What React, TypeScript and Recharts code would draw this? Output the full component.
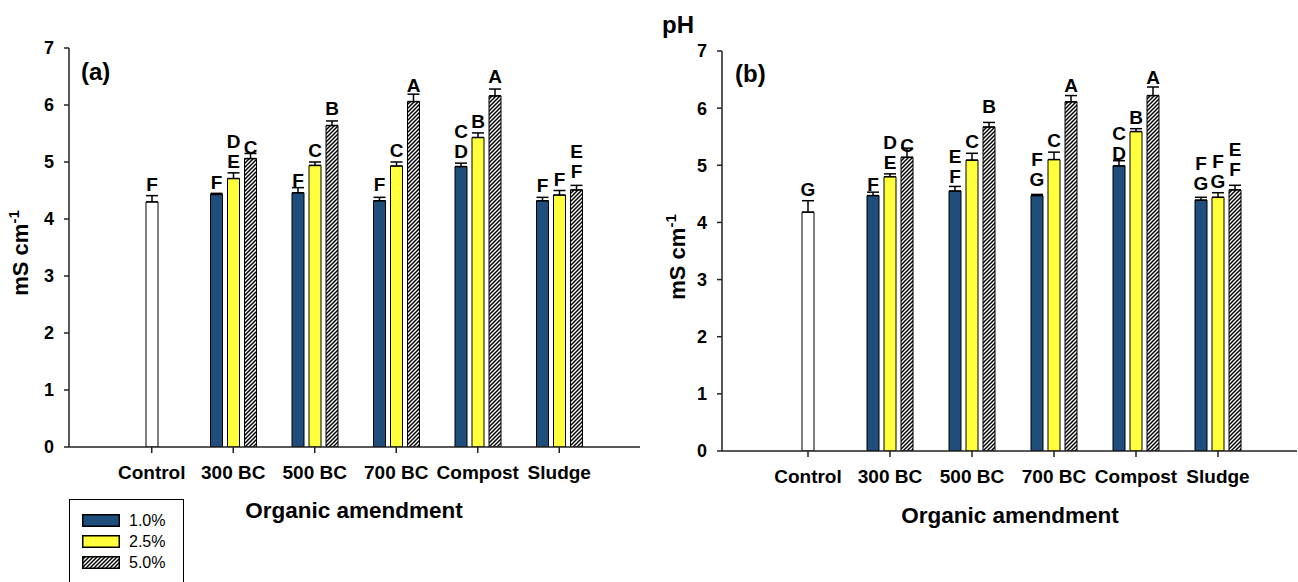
import React from 'react';
import { BarChart, Bar, XAxis, YAxis, ErrorBar, LabelList, Cell } from 'recharts';

const categories = ['Control', '300 BC', '500 BC', '700 BC', 'Compost', 'Sludge'];
const yTicks = [0, 1, 2, 3, 4, 5, 6, 7];

// panel (a)
const controlA = 4.3;
const controlAErr = 0.11;
const controlALetter = 'F';
const a10 = [null, 4.43, 4.46, 4.32, 4.92, 4.32];
const a10Err = [null, 0.02, 0.09, 0.06, 0.06, 0.06];
const a10Letters = ['', 'F', 'F', 'F', 'CD', 'F'];
const a25 = [null, 4.71, 4.94, 4.93, 5.43, 4.42];
const a25Err = [null, 0.1, 0.06, 0.07, 0.08, 0.08];
const a25Letters = ['', 'DE', 'C', 'C', 'B', 'F'];
const a50 = [null, 5.06, 5.64, 6.06, 6.16, 4.51];
const a50Err = [null, 0.09, 0.08, 0.13, 0.12, 0.08];
const a50Letters = ['', 'C', 'B', 'A', 'A', 'EF'];

// panel (b)
const controlB = 4.18;
const controlBErr = 0.2;
const controlBLetter = 'G';
const b10 = [null, 4.47, 4.55, 4.47, 4.99, 4.39];
const b10Err = [null, 0.06, 0.08, 0.02, 0.09, 0.05];
const b10Letters = ['', 'F', 'EF', 'FG', 'CD', 'FG'];
const b25 = [null, 4.8, 5.09, 5.1, 5.59, 4.44];
const b25Err = [null, 0.05, 0.12, 0.13, 0.05, 0.08];
const b25Letters = ['', 'DE', 'C', 'C', 'B', 'FG'];
const b50 = [null, 5.14, 5.67, 6.11, 6.22, 4.57];
const b50Err = [null, 0.16, 0.08, 0.11, 0.15, 0.08];
const b50Letters = ['', 'C', 'B', 'A', 'A', 'EF'];

const legendItems = ['1.0%', '2.5%', '5.0%'];

const BLUE = '#1f4e7d';
const YELLOW = '#ffff3c';
const FONT = '"Liberation Sans", Arial, sans-serif';
const AXIS = '#222';

function buildRows(
  control: number, controlErr: number, controlLetter: string,
  v10: (number | null)[], e10: (number | null)[], l10: string[],
  v25: (number | null)[], e25: (number | null)[], l25: string[],
  v50: (number | null)[], e50: (number | null)[], l50: string[],
) {
  return categories.map((name, i) => ({
    name,
    low: v10[i],
    lowErr: e10[i] == null ? null : [0, e10[i]],
    lowE: e10[i] ?? 0,
    lowLbl: l10[i],
    mid: i === 0 ? control : v25[i],
    midErr: i === 0 ? [0, controlErr] : e25[i] == null ? null : [0, e25[i]],
    midE: i === 0 ? controlErr : e25[i] ?? 0,
    midLbl: i === 0 ? controlLetter : l25[i],
    high: v50[i],
    highErr: e50[i] == null ? null : [0, e50[i]],
    highE: e50[i] ?? 0,
    highLbl: l50[i],
  }));
}

const rowsA = buildRows(controlA, controlAErr, controlALetter, a10, a10Err, a10Letters, a25, a25Err, a25Letters, a50, a50Err, a50Letters);
const rowsB = buildRows(controlB, controlBErr, controlBLetter, b10, b10Err, b10Letters, b25, b25Err, b25Letters, b50, b50Err, b50Letters);

// letters sit just above the error bar
const letters = (rows: any[], errKey: string, pxPerUnit: number) => (props: any) => {
  const { value, index } = props;
  const vb = props.viewBox || props;
  if (!value || vb.x == null || isNaN(vb.y)) return null;
  const lines = String(value).split('');
  const cx = vb.x + vb.width / 2;
  const base = vb.y - rows[index][errKey] * pxPerUnit - 5;
  return (
    <text textAnchor="middle" fontFamily={FONT} fontWeight="bold" fontSize={19} fill="#000">
      {lines.map((l, i) => (
        <tspan key={i} x={cx} y={base - (lines.length - 1 - i) * 20}>{l}</tspan>
      ))}
    </text>
  );
};

type PanelProps = {
  rows: any[];
  left: number;
  width: number;
  margin: { top: number; right: number; bottom: number; left: number };
  padding: { left: number; right: number };
};

function Panel({ rows, left, width, margin, padding }: PanelProps) {
  const height = 540;
  const pxPerUnit = (height - margin.top - margin.bottom - 40) / 7;
  const tickStyle = { fontSize: 18, fontWeight: 'bold', fill: '#000', fontFamily: FONT } as any;
  return (
    <div style={{ position: 'absolute', left, top: 0 }}>
      <BarChart width={width} height={height} data={rows} margin={margin} barSize={12} barGap={5}>
        <XAxis
          dataKey="name"
          interval={0}
          padding={padding}
          height={40}
          tickSize={6}
          tickMargin={13}
          stroke={AXIS}
          strokeWidth={1.5}
          tick={{ ...tickStyle, fontSize: 19 }}
        />
        <XAxis xAxisId="top" orientation="top" dataKey="name" height={0} tick={false} tickLine={false} stroke={AXIS} strokeWidth={1.5} />
        <YAxis
          domain={[0, 7]}
          ticks={yTicks}
          width={60}
          tickSize={5}
          tickMargin={10}
          stroke={AXIS}
          strokeWidth={1.5}
          tick={tickStyle}
          allowDataOverflow
        />
        <YAxis yAxisId="right" orientation="right" width={0} tick={false} tickLine={false} stroke={AXIS} strokeWidth={1.5} domain={[0, 7]} />
        <Bar dataKey="low" fill={BLUE} stroke="#000" strokeWidth={1} isAnimationActive={false}>
          <ErrorBar dataKey="lowErr" width={6} stroke="#000" strokeWidth={1.5} direction="y" />
          <LabelList dataKey="lowLbl" content={letters(rows, 'lowE', pxPerUnit)} />
        </Bar>
        <Bar dataKey="mid" fill={YELLOW} stroke="#000" strokeWidth={1} isAnimationActive={false}>
          {rows.map((r, i) => (
            <Cell key={r.name} fill={i === 0 ? '#fff' : YELLOW} />
          ))}
          <ErrorBar dataKey="midErr" width={6} stroke="#000" strokeWidth={1.5} direction="y" />
          <LabelList dataKey="midLbl" content={letters(rows, 'midE', pxPerUnit)} />
        </Bar>
        <Bar dataKey="high" fill="url(#hatch)" stroke="#000" strokeWidth={1} isAnimationActive={false}>
          <ErrorBar dataKey="highErr" width={6} stroke="#000" strokeWidth={1.5} direction="y" />
          <LabelList dataKey="highLbl" content={letters(rows, 'highE', pxPerUnit)} />
        </Bar>
      </BarChart>
    </div>
  );
}

function Swatch({ fill }: { fill: string }) {
  return (
    <svg width={38} height={13} style={{ display: 'block' }}>
      <rect x={0.75} y={0.75} width={36.5} height={11.5} fill={fill} stroke="#000" strokeWidth={1.5} />
    </svg>
  );
}

export default function App() {
  const swatchFills = [BLUE, YELLOW, 'url(#hatch)'];
  return (
    <div style={{ position: 'absolute', left: 0, top: 0, width: 1298, height: 582, overflow: 'hidden', background: '#fff', fontFamily: FONT }}>
      <svg width={0} height={0} style={{ position: 'absolute' }}>
        <defs>
          <pattern id="hatch" patternUnits="userSpaceOnUse" width={4} height={4}>
            <rect width={4} height={4} fill="#fff" />
            <path d="M-1,1 L1,-1 M0,4 L4,0 M3,5 L5,3" stroke="#000" strokeWidth={1.5} />
          </pattern>
        </defs>
      </svg>

      <Panel rows={rowsA} left={0} width={650} margin={{ top: 48, right: 10, bottom: 53, left: 9 }} padding={{ left: 42, right: 40 }} />
      <Panel rows={rowsB} left={650} width={648} margin={{ top: 51, right: 1, bottom: 49, left: 12 }} padding={{ left: 45, right: 38 }} />

      <svg width={1298} height={582} style={{ position: 'absolute', left: 0, top: 0, pointerEvents: 'none' }}>
        <g fontFamily={FONT} fontWeight="bold" fill="#000">
          <text x={678} y={33} fontSize={24} textAnchor="middle">pH</text>
          <text x={81} y={80} fontSize={24}>(a)</text>
          <text x={735} y={82} fontSize={24}>(b)</text>
          <text x={354} y={518} fontSize={22.5} textAnchor="middle">Organic amendment</text>
          <text x={1010} y={523} fontSize={22.5} textAnchor="middle">Organic amendment</text>
          <text transform="translate(28,253) rotate(-90)" fontSize={22} textAnchor="middle">
            mS cm<tspan dy={-9} fontSize={15}>-1</tspan>
          </text>
          <text transform="translate(685,257) rotate(-90)" fontSize={22} textAnchor="middle">
            mS cm<tspan dy={-9} fontSize={15}>-1</tspan>
          </text>
        </g>
      </svg>

      <div style={{ position: 'absolute', left: 69, top: 499, width: 115, height: 120, border: '1.5px solid #000', boxSizing: 'border-box' }}>
        {legendItems.map((item, i) => (
          <div key={item} style={{ position: 'absolute', left: 12, top: 14 + i * 21, display: 'flex', alignItems: 'center', height: 13 }}>
            <Swatch fill={swatchFills[i]} />
            <span style={{ marginLeft: 9, fontSize: 16, lineHeight: '13px' }}>{item}</span>
          </div>
        ))}
      </div>
    </div>
  );
}
